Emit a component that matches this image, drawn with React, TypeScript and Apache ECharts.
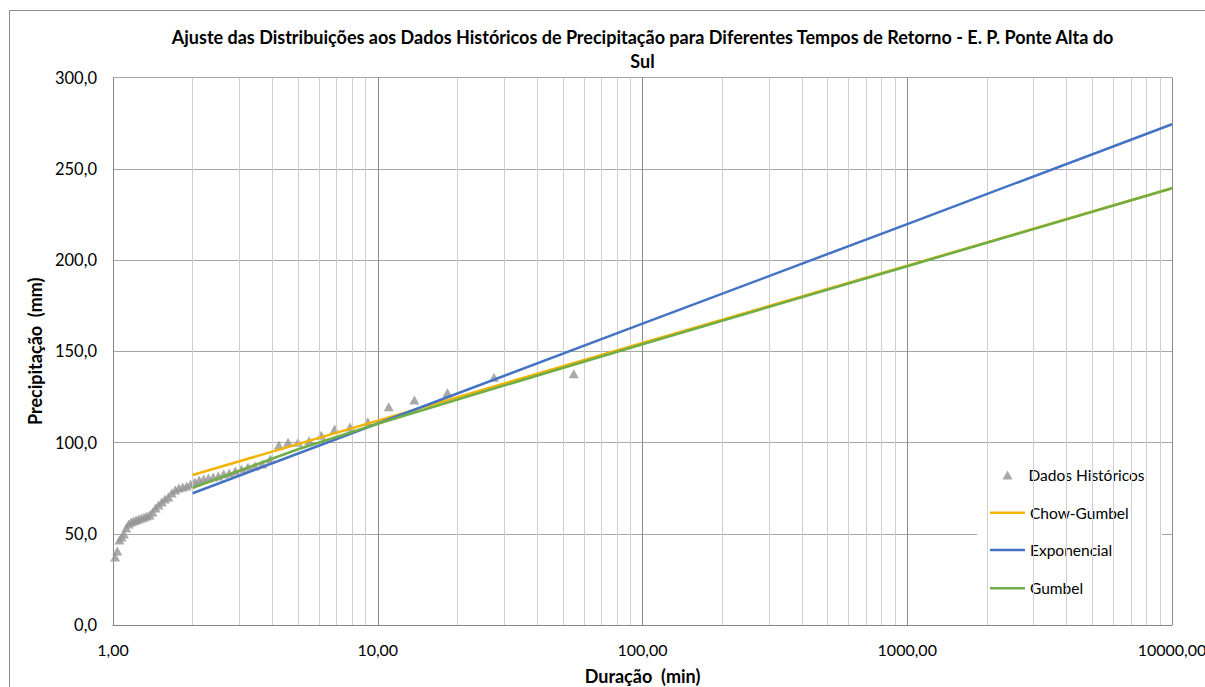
import React, { useEffect, useRef } from "react";
import * as echarts from "echarts";

// Historical data: return period (Weibull plotting position) and precipitation
const histReturnPeriods = [
  55.0, 27.5, 18.333, 13.75, 11.0, 9.167, 7.857, 6.875, 6.111, 5.5, 5.0, 4.583, 4.231,
  3.929, 3.667, 3.438, 3.235, 3.056, 2.895, 2.75, 2.619, 2.5, 2.391, 2.292, 2.2, 2.115,
  2.037, 1.964, 1.897, 1.833, 1.774, 1.719, 1.667, 1.618, 1.571, 1.528, 1.486, 1.447,
  1.41, 1.375, 1.341, 1.31, 1.279, 1.25, 1.222, 1.196, 1.17, 1.146, 1.122, 1.1, 1.078,
  1.058, 1.038, 1.019,
];
const histPrecip = [
  137.7, 135.8, 127.3, 123.3, 119.6, 111.4, 108.5, 107.4, 104.0, 101.0, 100.1, 100.1, 98.6,
  91.0, 88.2, 87.1, 86.6, 85.5, 84.4, 83.3, 82.7, 81.7, 81.1, 80.6, 80.0, 79.5,
  78.4, 77.3, 76.2, 75.6, 75.1, 74.0, 72.3, 70.1, 69.0, 67.4, 65.8, 64.1,
  61.9, 60.3, 59.7, 59.2, 58.6, 58.1, 57.5, 57.0, 56.4, 55.3, 53.2, 49.9, 48.2,
  46.6, 40.6, 37.3,
];

// Fitted distributions
const chowT = [2, 10, 100, 1000, 10000];
const chowValues = [82.2, 112.0, 154.6, 196.9, 239.3];
const expoT = [2, 10, 100, 1000, 10000];
const expoValues = [72.2, 110.4, 165.1, 219.7, 274.4];
const gumbelT = [2, 5, 10, 25, 50, 100, 1000, 10000];
const gumbelValues = [75.2, 96.3, 110.3, 127.8, 140.8, 153.8, 196.6, 239.3];

// Minor vertical gridlines of the log axis
const minorGridValues = [
  2, 3, 4, 5, 6, 7, 8, 9,
  20, 30, 40, 50, 60, 70, 80, 90,
  200, 300, 400, 500, 600, 700, 800, 900,
  2000, 3000, 4000, 5000, 6000, 7000, 8000, 9000,
];

const titleLine1 =
  "Ajuste das Distribuições aos Dados Históricos de Precipitação para Diferentes Tempos de Retorno - E. P. Ponte Alta do";
const titleLine2 = "Sul";
const xAxisName = "Duração  (min)";
const yAxisName = "Precipitação  (mm)";
const seriesNames = ["Dados Históricos", "Chow-Gumbel", "Exponencial", "Gumbel"];

const FONT = "Lato, 'Noto Sans', sans-serif";

export default function App() {
  const ref = useRef<HTMLDivElement>(null);

  useEffect(() => {
    if (!ref.current) return;
    const chart = echarts.init(ref.current, undefined, { renderer: "svg" });

    const zip = (xs: number[], ys: number[]) => xs.map((x, i) => [x, ys[i]]);

    const legendCenters = [475, 512.7, 550, 588.3];
    const legendBase = {
      orient: "vertical",
      left: 990,
      padding: 0,
      itemWidth: 35,
      itemGap: 0,
      selectedMode: false,
      textStyle: { fontFamily: FONT, fontSize: 15.5, color: "#000", lineHeight: 16 },
    };

    chart.setOption({
      animation: false,
      backgroundColor: "#fff",
      textStyle: { fontFamily: FONT },
      grid: {
        left: 113,
        right: 33,
        top: 77.5,
        bottom: 62,
        containLabel: false,
        outerBoundsMode: "none",
      },
      graphic: [
        {
          type: "rect",
          z: 0,
          silent: true,
          shape: { x: 9.5, y: 10.5, width: 1210, height: 700 },
          style: { fill: "none", stroke: "#8c8c8c", lineWidth: 1 },
        },
        {
          type: "rect",
          z: 3,
          silent: true,
          shape: { x: 977, y: 452, width: 185, height: 155 },
          style: { fill: "#ffffff" },
        },
        {
          type: "text",
          z: 10,
          x: 642.5,
          y: 37,
          style: {
            text: titleLine1,
            fontFamily: FONT,
            fontWeight: "bold",
            fontSize: 18,
            fill: "#000",
            align: "center",
            verticalAlign: "middle",
          },
        },
        {
          type: "text",
          z: 10,
          x: 642.5,
          y: 61,
          style: {
            text: titleLine2,
            fontFamily: FONT,
            fontWeight: "bold",
            fontSize: 18,
            fill: "#000",
            align: "center",
            verticalAlign: "middle",
          },
        },
      ],
      legend: [
        {
          ...legendBase,
          left: 1002.5,
          top: legendCenters[0] - 8,
          itemWidth: 10,
          itemHeight: 9,
          textStyle: { ...legendBase.textStyle, padding: [0, 0, 0, 11] },
          data: [{ name: seriesNames[0], icon: "triangle" }],
        },
        { ...legendBase, top: legendCenters[1] - 8, itemHeight: 2.5, data: [{ name: seriesNames[1], icon: "rect" }] },
        { ...legendBase, top: legendCenters[2] - 8, itemHeight: 2.5, data: [{ name: seriesNames[2], icon: "rect" }] },
        { ...legendBase, top: legendCenters[3] - 8, itemHeight: 2.5, data: [{ name: seriesNames[3], icon: "rect" }] },
      ],
      xAxis: {
        type: "log",
        logBase: 10,
        min: 1,
        max: 10000,
        splitNumber: 4,
        name: xAxisName,
        nameLocation: "middle",
        nameGap: 42,
        nameTextStyle: { fontFamily: FONT, fontWeight: "bold", fontSize: 18, color: "#000" },
        axisLine: { show: true, lineStyle: { color: "#868686", width: 1 } },
        axisTick: { show: false },
        axisLabel: {
          fontFamily: FONT,
          fontSize: 16,
          color: "#000",
          margin: 16,
          showMaxLabel: true,
          showMinLabel: true,
          formatter: (v: number) => v.toFixed(2).replace(".", ","),
        },
        splitLine: { show: true, lineStyle: { color: "#8c8c8c", width: 1 } },
      },
      yAxis: {
        type: "value",
        min: 0,
        max: 300,
        interval: 50,
        name: yAxisName,
        nameLocation: "middle",
        nameGap: 62,
        nameRotate: 90,
        nameTextStyle: { fontFamily: FONT, fontWeight: "bold", fontSize: 18, color: "#000" },
        axisLine: { show: true, lineStyle: { color: "#868686", width: 1 } },
        axisTick: { show: false },
        axisLabel: {
          fontFamily: FONT,
          fontSize: 16.5,
          color: "#000",
          margin: 16,
          padding: [5, 0, 0, 0],
          formatter: (v: number) => v.toFixed(1).replace(".", ","),
        },
        splitLine: { show: true, lineStyle: { color: "#a6a6a6", width: 1 } },
      },
      series: [
        {
          name: "minor-grid",
          type: "line",
          z: 1,
          silent: true,
          data: [],
          markLine: {
            silent: true,
            symbol: ["none", "none"],
            label: { show: false },
            lineStyle: { color: "#cfcfcf", width: 1, type: "solid" },
            emphasis: { disabled: true },
            data: minorGridValues.map((v) => ({ xAxis: v })),
          },
        },
        {
          name: seriesNames[0],
          type: "scatter",
          z: 4,
          symbol: "triangle",
          symbolSize: [10, 9],
          itemStyle: { color: "#939393" },
          data: zip(histReturnPeriods, histPrecip),
        },
        {
          name: seriesNames[1],
          type: "line",
          z: 5,
          symbol: "none",
          showSymbol: false,
          lineStyle: { color: "#f2b400", width: 2.5 },
          itemStyle: { color: "#f2b400" },
          data: zip(chowT, chowValues),
        },
        {
          name: seriesNames[2],
          type: "line",
          z: 6,
          symbol: "none",
          showSymbol: false,
          lineStyle: { color: "#4472c4", width: 2.5 },
          itemStyle: { color: "#4472c4" },
          data: zip(expoT, expoValues),
        },
        {
          name: seriesNames[3],
          type: "line",
          z: 7,
          symbol: "none",
          showSymbol: false,
          lineStyle: { color: "#70ad47", width: 2.5 },
          itemStyle: { color: "#70ad47" },
          data: zip(gumbelT, gumbelValues),
        },
      ],
    });

    return () => chart.dispose();
  }, []);

  return (
    <div
      ref={ref}
      style={{ position: "fixed", left: 0, top: 0, width: 1205, height: 687, background: "#fff" }}
    />
  );
}
